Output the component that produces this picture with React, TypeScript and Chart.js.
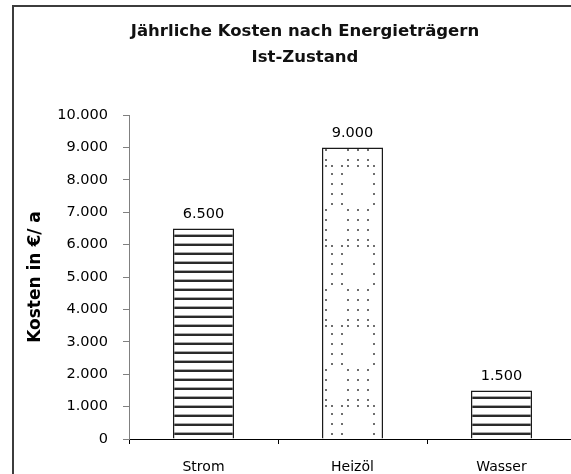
import React, { useEffect, useRef } from 'react';
import { Chart, registerables } from 'chart.js';

Chart.register(...registerables);

const TITLE_LINES = ['Jährliche Kosten nach Energieträgern', 'Ist-Zustand'];
const Y_AXIS_TITLE = 'Kosten in €/ a';
const CATEGORIES = ['Strom', 'Heizöl', 'Wasser'];
const COSTS = [6500, 9000, 1500];
const Y_MIN = 0;
const Y_MAX = 10000;
const Y_STEP = 1000;

const FAMILY = "'DejaVu Sans', Verdana, sans-serif";

function fmt(v: number): string {
  return String(Math.round(v)).replace(/\B(?=(\d{3})+(?!\d))/g, '.');
}

function makeStripes(): CanvasPattern | string {
  const c = document.createElement('canvas');
  c.width = 8;
  c.height = 9;
  const x = c.getContext('2d');
  if (!x) return '#fff';
  x.fillStyle = '#ffffff';
  x.fillRect(0, 0, 8, 9);
  x.fillStyle = '#a8a8a8';
  x.fillRect(0, 0, 8, 1);
  x.fillStyle = '#2a2a2a';
  x.fillRect(0, 1, 8, 2);
  return x.createPattern(c, 'repeat') || '#fff';
}

function makeDots(): CanvasPattern | string {
  const W = 58;
  const H = 80;
  const c = document.createElement('canvas');
  c.width = W;
  c.height = H;
  const x = c.getContext('2d');
  if (!x) return '#fff';
  x.fillStyle = '#ffffff';
  x.fillRect(0, 0, W, H);
  x.fillStyle = '#6e6e6e';
  const A = [6, 16, 48];
  const B = [0, 22, 32, 42];
  const dot = (px: number, py: number) => x.fillRect(px, py, 2, 2);
  [0, 10, 20, 30].forEach((ry) => B.forEach((cx) => dot(cx, ry)));
  [36].forEach((ry) => [...A, ...B].forEach((cx) => dot(cx, ry)));
  [44, 54, 64, 74].forEach((ry) => A.forEach((cx) => dot(cx, ry)));
  const p = x.createPattern(c, 'repeat');
  if (!p) return '#fff';
  try {
    p.setTransform(new DOMMatrix([1, 0, 0, 1, 35, 49]));
  } catch (e) {
    /* ignore */
  }
  return p;
}

const titlePlugin = {
  id: 'customTitle',
  afterDraw(chart: any) {
    const ctx = chart.ctx as CanvasRenderingContext2D;
    ctx.save();
    ctx.fillStyle = '#111';
    ctx.font = `bold 16.5px ${FAMILY}`;
    ctx.textAlign = 'center';
    ctx.textBaseline = 'alphabetic';
    ctx.fillText(TITLE_LINES[0], 305, 36);
    ctx.fillText(TITLE_LINES[1], 305, 62);
    ctx.restore();
  },
};

const valuePlugin = {
  id: 'valueLabels',
  afterDatasetsDraw(chart: any) {
    const ctx = chart.ctx as CanvasRenderingContext2D;
    const meta = chart.getDatasetMeta(0);
    ctx.save();
    ctx.fillStyle = '#000';
    ctx.font = `14.5px ${FAMILY}`;
    ctx.textAlign = 'center';
    ctx.textBaseline = 'alphabetic';
    meta.data.forEach((bar: any, i: number) => {
      ctx.fillText(fmt(COSTS[i]), bar.x, bar.y - 10);
    });
    ctx.restore();
  },
};

export default function App() {
  const ref = useRef<HTMLCanvasElement>(null);

  useEffect(() => {
    const canvas = ref.current;
    if (!canvas) return;
    const stripes = makeStripes();
    const dots = makeDots();
    const chart = new Chart(canvas, {
      type: 'bar',
      data: {
        labels: CATEGORIES,
        datasets: [
          {
            data: COSTS,
            backgroundColor: [stripes, dots, stripes] as any,
            borderColor: '#1a1a1a',
            borderWidth: 1.5,
            barPercentage: 0.41,
            categoryPercentage: 1,
          },
        ],
      },
      options: {
        responsive: false,
        animation: false,
        devicePixelRatio: 1,
        layout: { padding: { left: 0, right: 24, top: 115, bottom: 0 } },
        plugins: {
          legend: { display: false },
          tooltip: { enabled: false },
          title: { display: false },
        },
        scales: {
          x: {
            grid: {
              display: true,
              drawOnChartArea: false,
              drawTicks: true,
              tickLength: 5,
              color: '#000',
              offset: true,
            },
            border: { color: '#000', width: 1 },
            ticks: { color: '#000', font: { family: FAMILY, size: 14 }, padding: 15 },
            afterFit: (s: any) => {
              s.height = 41;
              s.paddingLeft = 0;
              s.paddingRight = 0;
            },
          },
          y: {
            min: Y_MIN,
            max: Y_MAX,
            ticks: {
              stepSize: Y_STEP,
              callback: (v: any) => fmt(Number(v)),
              color: '#000',
              font: { family: FAMILY, size: 14.5 },
              padding: 15,
            },
            grid: {
              display: true,
              drawOnChartArea: false,
              drawTicks: true,
              tickLength: 6,
              color: '#808080',
            },
            border: { color: '#808080', width: 1 },
            title: {
              display: true,
              text: Y_AXIS_TITLE,
              color: '#000',
              font: { family: FAMILY, size: 17, weight: 'bold' },
              padding: { top: 25, bottom: 0 },
            },
            afterFit: (s: any) => {
              s.width = 129;
              s.paddingTop = 0;
              s.paddingBottom = 0;
            },
          },
        },
      },
      plugins: [titlePlugin, valuePlugin],
    });
    return () => chart.destroy();
  }, []);

  return (
    <div
      style={{
        position: 'absolute',
        left: 0,
        top: 0,
        width: 571,
        height: 474,
        overflow: 'hidden',
        background: '#fff',
      }}
    >
      <div
        style={{
          position: 'absolute',
          left: 12,
          top: 5,
          width: 800,
          height: 800,
          border: '2px solid #3c3c3c',
          boxSizing: 'border-box',
        }}
      />
      <canvas
        ref={ref}
        width={600}
        height={480}
        style={{ position: 'absolute', left: 0, top: 0, width: 600, height: 480, display: 'block' }}
      />
    </div>
  );
}
